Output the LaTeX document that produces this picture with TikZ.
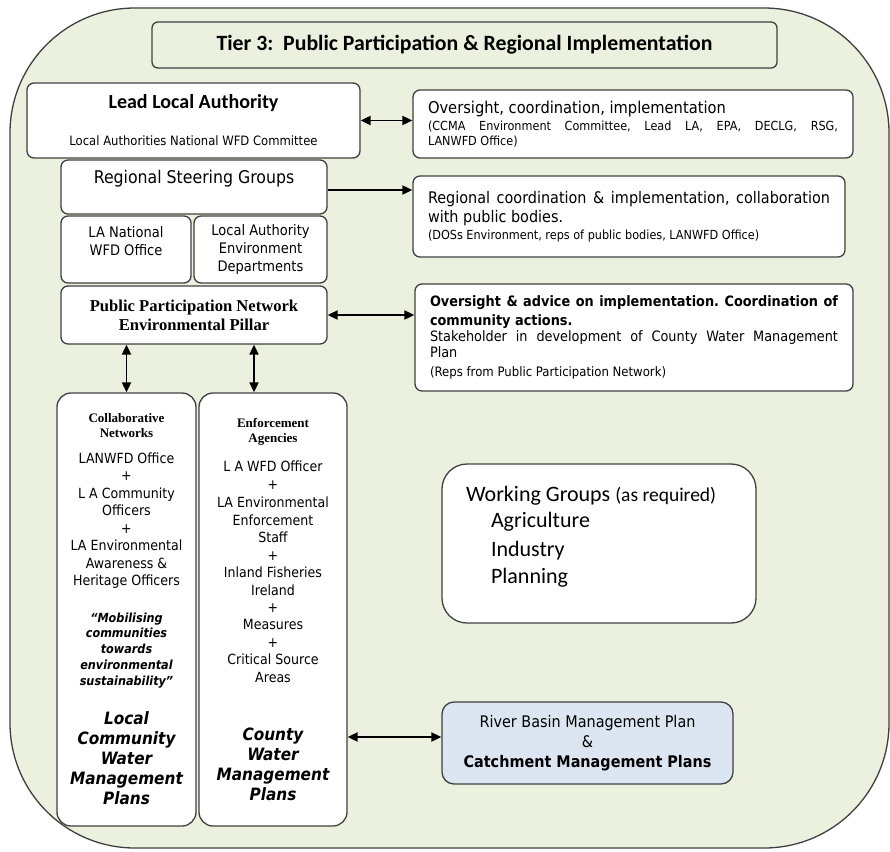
\documentclass[tikz,border=0pt]{standalone}
\usepackage{fontspec}
\setmainfont{DejaVu Sans}[FakeStretch=0.9]
\newfontfamily\calibri{Carlito}
\newfontfamily\timesfont{Liberation Serif}
\usetikzlibrary{arrows.meta}
\definecolor{tiergreen}{HTML}{EBF1DE}
\definecolor{planblue}{HTML}{DCE6F2}
\definecolor{edgegray}{HTML}{3F3F3F}
\newcommand\fsz[2]{\fontsize{#1}{#2}\selectfont}
\newcommand\colhead{\timesfont\bfseries\fsz{13}{14}}
\newcommand\motto{\bfseries\itshape\fsz{12.5}{15}}
\newcommand\planfont{\bfseries\itshape\fsz{17}{20}}
\setlength\parindent{0pt}
\hyphenpenalty=10000
\tolerance=10000
\frenchspacing

\begin{document}
\begin{tikzpicture}[x=1pt, y=-1pt,
    box/.style = {draw=edgegray, line width=1.3pt, rounded corners=7pt,
      fill=white, align=center, inner sep=0pt},
    titlebox/.style = {box, fill=none, rounded corners=6pt,
      font=\calibri\bfseries\fsz{21.8}{24}},
    notebox/.style = {box, text width=#1, align=justify, inner xsep=15pt},
    column/.style = {box, rounded corners=14pt, minimum height=433,
      font=\fsz{14}{20}},
    dbl/.style = {{Triangle[length=10pt,width=9pt]}-{Triangle[length=10pt,width=9pt]},
      line width=1.9pt},
    sgl/.style = {-{Triangle[length=10pt,width=9pt]}, line width=1.9pt}]
  \useasboundingbox (0,0) rectangle (890,851);
  \draw[draw=edgegray, fill=tiergreen, line width=1.3pt, rounded corners=125pt]
    (10,8) rectangle (889,848);

  \node[titlebox, minimum width=625, minimum height=46] (title) at (464.5,45)
    {Tier 3:\ \ Public Participation \& Regional Implementation};

  \node[box, minimum width=333, minimum height=75, font=\fsz{12.9}{14}] (lla) at (193.5,120.5)
    {{\calibri\bfseries\fsz{20}{24}Lead Local Authority}\\[23pt]Local Authorities National WFD Committee};
  \node[notebox=410pt, minimum height=68, font=\fsz{12.5}{15}] (ov1) at (633,124)
    {{\fsz{16.3}{17}Oversight, coordination, implementation\par}\vspace{2pt}%
     (CCMA Environment Committee, Lead LA, EPA, DECLG, RSG,\linebreak LANWFD Office)};

  \node[box, minimum width=266, minimum height=54, font=\fsz{17.5}{20}] (rsg) at (194,187)
    {Regional Steering Groups\\ \mbox{}};
  \node[notebox=402pt, minimum height=81, font=\fsz{12.5}{17}] (ov2) at (629,216.5)
    {{\fsz{16}{19.5}Regional coordination \& implementation, collaboration\linebreak with public bodies.\par}%
     (DOSs Environment, reps of public bodies, LANWFD Office)};

  \node[box, minimum width=130, minimum height=67, font=\fsz{14.5}{18}] (lawfd) at (126,249.5)
    {LA National\\WFD Office\\ \mbox{}};
  \node[box, minimum width=133, minimum height=67, font=\fsz{14.5}{18}] (laenv) at (260.5,249.5)
    {Local Authority\\Environment\\Departments};

  \node[box, minimum width=266, minimum height=58, font=\timesfont\bfseries\fsz{16.6}{19}] (ppn) at (194,315)
    {Public Participation Network\\Environmental Pillar};
  \node[notebox=408pt, minimum height=107, font=\fsz{14.3}{16}] (ov3) at (634,337.5)
    {{\bfseries\fsz{14.3}{19}Oversight \& advice on implementation. Coordination of\linebreak community actions.\par}%
     Stakeholder in development of County Water Management\linebreak Plan\par
     {\fsz{13}{19}(Reps from Public Participation Network)\par}};

  \node[column, minimum width=139] (collab) at (126.5,609.5)
    {{\colhead Collaborative}\\[-5pt]{\colhead Networks}\\[6pt]
     LANWFD Office\\[-3pt]+\\[-2pt]L A Community\\[-3pt]Officers\\[-2pt]+\\[-3pt]
     LA Environmental\\[-2pt]Awareness \&\\[-3pt]Heritage Officers\\[17pt]
     {\motto “Mobilising}\\[-5pt]{\motto communities}\\[-4pt]{\motto towards}\\[-4pt]
     {\motto environmental}\\[-4pt]{\motto sustainability”}\\[19pt]
     {\planfont Local}\\{\planfont Community}\\{\planfont Water}\\{\planfont Management}\\{\planfont Plans}};
  \node[column, minimum width=148] (enf) at (273,609.5)
    {{\colhead Enforcement}\\[-5pt]{\colhead Agencies}\\[9pt]
     L A WFD Officer\\[-2pt]+\\[-2pt]LA Environmental\\[-2pt]Enforcement\\[-3pt]Staff\\[-2pt]
     +\\[-3pt]Inland Fisheries\\[-2pt]Ireland\\[-3pt]+\\[-3pt]Measures\\[-2pt]+\\[-3pt]
     Critical Source\\[-2pt]Areas\\[38pt]
     {\planfont County}\\{\planfont Water}\\{\planfont Management}\\{\planfont Plans}};

  \node[box, rounded corners=25pt, minimum width=314, minimum height=159, text width=266pt,
    inner xsep=24pt, align=left, font=\calibri\fsz{22}{27}] (wg) at (599,543.5)
    {\spaceskip=0pt\relax Working Groups {\fsz{19.5}{20}(as required)}\\[-1pt]\hspace*{25pt}Agriculture\\[2pt]
     \hspace*{25pt}Industry\\\hspace*{25pt}Planning\\[-10pt]\mbox{}};

  \node[box, fill=planblue, rounded corners=12pt, minimum width=291, minimum height=82,
    font=\fsz{16}{20}] (rbmp) at (587.5,743)
    {River Basin Management Plan\\\&\\{\bfseries Catchment Management Plans}};

  \coordinate (rsgout) at ([yshift=-3pt]rsg.east);
  \coordinate (enftop) at ([xshift=-19pt]enf.north);
  \coordinate (rbin) at ([yshift=6pt]rbmp.west);
  \draw[dbl] (lla.east) -- (lla.east -| ov1.west);
  \draw[sgl] (rsgout) -- (rsgout -| ov2.west);
  \draw[dbl] (ppn.east) -- (ppn.east -| ov3.west);
  \draw[dbl] (ppn.south -| collab.north) -- (collab.north);
  \draw[dbl] (enftop |- ppn.south) -- (enftop);
  \draw[dbl] (rbin -| enf.east) -- (rbin);
\end{tikzpicture}
\end{document}
